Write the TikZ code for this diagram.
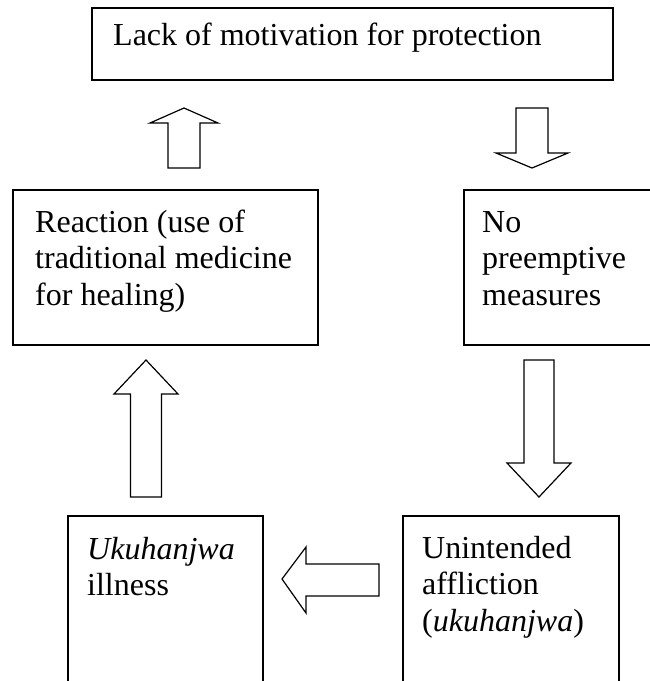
\documentclass[tikz,border=0pt]{standalone}
\usepackage{fontspec}
\setmainfont{Liberation Serif}
\tikzset{
	box/.style={line width=1.2},
	blk/.style={line width=1.2, line join=miter},
	txt/.style={anchor=north west, inner sep=0pt, align=left, font=\fontsize{32}{36.8}\selectfont},
}
\begin{document}
\begin{tikzpicture}[x=1pt,y=-1pt]
		\clip (0,0) rectangle (650,681);
		\coordinate (U1) at (184,108);
		\coordinate (D1) at (532,168);
		\coordinate (U2) at (146,360);
		\coordinate (D2) at (539,497);
		\coordinate (L1) at (282,579);
		\draw[box] (92,8) rectangle (613,80);
		\draw[box] (13,190) rectangle (318,345);
		\draw[box] (464,190) rectangle (670,345);
		\draw[box] (68,516) rectangle (263,700);
		\draw[box] (403,516) rectangle (619,700);
		\draw[blk] (U1) -- ++(34,15) -- ++(-18,0) -- ++(0,45) -- ++(-32,0) -- ++(0,-45) -- ++(-18,0) -- cycle;
		\draw[blk] (D1) -- ++(36,-15) -- ++(-20,0) -- ++(0,-45) -- ++(-32,0) -- ++(0,45) -- ++(-20,0) -- cycle;
		\draw[blk] (U2) -- ++(32,34) -- ++(-16.5,0) -- ++(0,103) -- ++(-31,0) -- ++(0,-103) -- ++(-16.5,0) -- cycle;
		\draw[blk] (D2) -- ++(32,-34) -- ++(-17,0) -- ++(0,-103) -- ++(-30,0) -- ++(0,103) -- ++(-17,0) -- cycle;
		\draw[blk] (L1) -- ++(24,-32) -- ++(0,17) -- ++(73,0) -- ++(0,32) -- ++(-73,0) -- ++(0,17) -- cycle;
		\node[txt] (lack) at (113,19.2) {\strut Lack of motivation for protection};
		\node[txt] (react) at (35,206.2) {\strut Reaction (use of\\traditional medicine\\for healing)};
		\node[txt] (nopre) at (482,206.2) {\strut No\\preemptive\\measures};
		\node[txt] (ill) at (87,533.2) {\strut\textit{Ukuhanjwa}\\illness};
		\node[txt] (afflict) at (422,532.2) {\strut Unintended\\affliction\\(\textit{ukuhanjwa})};
	\end{tikzpicture}
\end{document}
